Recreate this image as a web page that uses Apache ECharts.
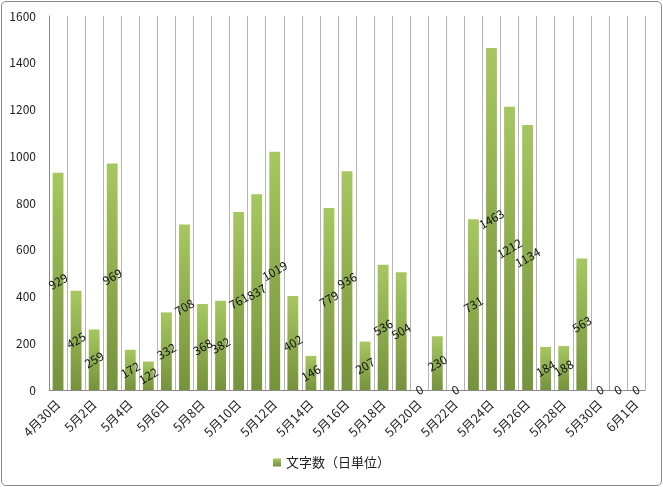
<!DOCTYPE html>
<html>
<head>
<meta charset="utf-8">
<script src="https://cdn.jsdelivr.net/npm/echarts@6/dist/echarts.min.js"></script>
<style>
  html, body { margin: 0; padding: 0; background: #fff; }
  #frame { position: absolute; left: 1px; top: 1px; width: 659px; height: 483px; border: 1.5px solid #8a8a8a; border-radius: 5px; }
  #chart { position: absolute; left: 0; top: 0; width: 663px; height: 487px; }
</style>
</head>
<body>
<div id="frame"></div>
<div id="chart"></div>
<script>
  // 日付（4月30日〜6月1日）
  var days = ['4月30日','5月1日','5月2日','5月3日','5月4日','5月5日','5月6日','5月7日','5月8日','5月9日',
              '5月10日','5月11日','5月12日','5月13日','5月14日','5月15日','5月16日','5月17日','5月18日','5月19日',
              '5月20日','5月21日','5月22日','5月23日','5月24日','5月25日','5月26日','5月27日','5月28日','5月29日',
              '5月30日','5月31日','6月1日'];
  // 文字数（日単位）
  var counts = [929,425,259,969,172,122,332,708,368,382,
                761,837,1019,402,146,779,936,207,536,504,
                0,230,0,731,1463,1212,1134,184,188,563,
                0,0,0];
  var yTicks = [0,200,400,600,800,1000,1200,1400,1600];
  var seriesName = '文字数（日単位）';

  var myChart = echarts.init(document.getElementById('chart'));
  var font = '"Noto Sans CJK JP", "Noto Sans", sans-serif';

  var option = {
    animation: false,
    textStyle: { fontFamily: font },
    grid: { left: 49, right: 18, top: 16, bottom: 97 },
    legend: {
      bottom: 13,
      left: 'center',
      data: [seriesName],
      icon: 'rect',
      itemWidth: 8,
      itemHeight: 8,
      itemGap: 4,
      textStyle: { fontSize: 13, color: '#222', fontFamily: font }
    },
    xAxis: {
      type: 'category',
      data: days,
      axisLine: { lineStyle: { color: '#8a8a8a', width: 1 } },
      axisTick: { show: false },
      splitLine: { show: true, interval: 0, lineStyle: { color: '#b4b4b4', width: 1 } },
      axisLabel: {
        interval: 1,
        rotate: 45,
        margin: 12,
        fontSize: 12.5,
        color: '#222'
      }
    },
    yAxis: {
      type: 'value',
      min: yTicks[0],
      max: yTicks[yTicks.length - 1],
      interval: 200,
      axisLine: { show: true, lineStyle: { color: '#8a8a8a', width: 1 } },
      axisTick: { show: false },
      splitLine: { show: false },
      axisLabel: {
        fontSize: 12,
        color: '#222',
        margin: 13,
        formatter: function (v) { return String(v); }
      }
    },
    series: [{
      name: seriesName,
      type: 'bar',
      data: counts,
      barCategoryGap: '40%',
      itemStyle: {
        color: new echarts.graphic.LinearGradient(0, 0, 0, 1, [
          { offset: 0, color: '#a6c760' },
          { offset: 1, color: '#76923c' }
        ])
      },
      label: {
        show: true,
        position: 'inside',
        rotate: 30,
        fontSize: 12,
        color: '#111'
      }
    }]
  };

  myChart.setOption(option);
</script>
</body>
</html>
